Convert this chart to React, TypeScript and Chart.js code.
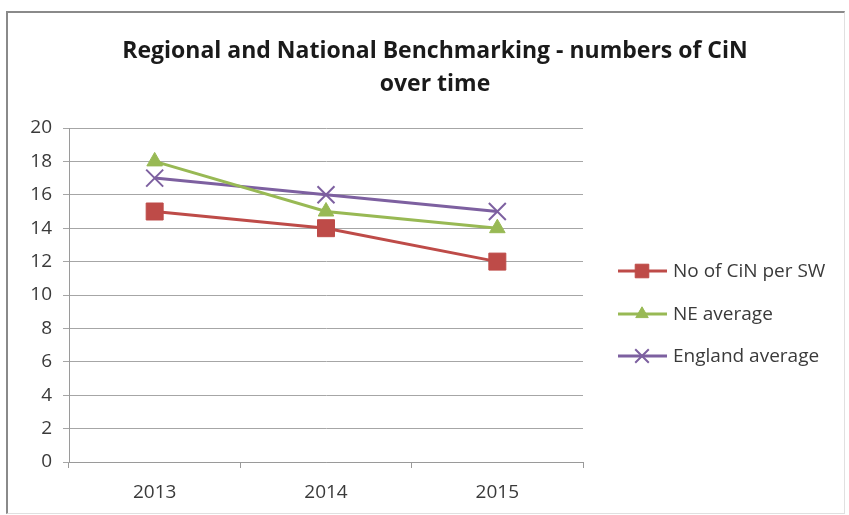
import React, { useEffect, useRef } from "react";
import { Chart, registerables } from "chart.js";
import { drawPoint } from "chart.js/helpers";

Chart.register(...registerables);

// Chart content
const titleLines = ["Regional and National Benchmarking - numbers of CiN", "over time"];
const years = ["2013", "2014", "2015"];
const cinPerSW = [15, 14, 12];
const neAverage = [18, 15, 14];
const englandAverage = [17, 16, 15];
const seriesNames = ["No of CiN per SW", "NE average", "England average"];

const FONT = '"Open Sans", "Liberation Sans", sans-serif';

// Draws the two-line title and the right-hand legend (line + marker + label)
const titleAndLegend = {
  id: "titleAndLegend",
  afterDraw(chart: any) {
    const ctx = chart.ctx as CanvasRenderingContext2D;
    ctx.save();
    ctx.fillStyle = "#1a1a1a";
    ctx.font = `bold 23px ${FONT}`;
    ctx.textAlign = "center";
    ctx.textBaseline = "alphabetic";
    ctx.fillText(titleLines[0], 435, 58);
    ctx.fillText(titleLines[1], 435, 91);

    const rows = [271, 314, 356];
    chart.data.datasets.forEach((ds: any, i: number) => {
      const y = rows[i];
      ctx.strokeStyle = ds.borderColor;
      ctx.lineWidth = 3;
      ctx.beginPath();
      ctx.moveTo(618, y);
      ctx.lineTo(667, y);
      ctx.stroke();
      ctx.fillStyle = ds.pointBackgroundColor;
      ctx.strokeStyle = ds.pointBorderColor;
      ctx.lineWidth = ds.pointBorderWidth;
      drawPoint(ctx, { pointStyle: ds.pointStyle, rotation: 0, borderWidth: ds.pointBorderWidth, radius: ds.pointRadius * 0.8 }, 642, y);
      ctx.fillStyle = "#3a3a3a";
      ctx.font = `19px ${FONT}`;
      ctx.textAlign = "left";
      ctx.textBaseline = "middle";
      ctx.fillText(ds.label, 673, y + 1);
    });
    ctx.restore();
  },
};

export default function App() {
  const ref = useRef<HTMLCanvasElement>(null);

  useEffect(() => {
    document.body.style.margin = "0";
    const chart = new Chart(ref.current!, {
      type: "line",
      data: {
        labels: years,
        datasets: [
          {
            label: seriesNames[0],
            data: cinPerSW,
            borderColor: "#BE4B48",
            borderWidth: 3,
            pointStyle: "rect",
            pointRadius: 12,
            pointBackgroundColor: "#BE4B48",
            pointBorderColor: "#BE4B48",
            pointBorderWidth: 1,
          },
          {
            label: seriesNames[1],
            data: neAverage,
            borderColor: "#98B954",
            borderWidth: 3,
            pointStyle: "triangle",
            pointRadius: 9,
            pointBackgroundColor: "#98B954",
            pointBorderColor: "#98B954",
            pointBorderWidth: 1,
          },
          {
            label: seriesNames[2],
            data: englandAverage,
            borderColor: "#7D60A0",
            borderWidth: 3,
            pointStyle: "crossRot",
            pointRadius: 12,
            pointBackgroundColor: "#7D60A0",
            pointBorderColor: "#7D60A0",
            pointBorderWidth: 2,
          },
        ],
      },
      options: {
        animation: false,
        responsive: false,
        layout: { padding: { top: 128, right: 266, left: 0, bottom: 0 } },
        plugins: { legend: { display: false }, title: { display: false }, tooltip: { enabled: false } },
        scales: {
          x: {
            offset: true,
            grid: { offset: true, drawOnChartArea: false, drawTicks: true, tickLength: 6, color: "#9a9a9a" },
            border: { color: "#9a9a9a", width: 1 },
            ticks: { font: { family: FONT, size: 19 }, color: "#3a3a3a", padding: 13 },
            afterFit: (s: any) => { s.height = 53; },
          },
          y: {
            min: 0,
            max: 20,
            ticks: { stepSize: 2, font: { family: FONT, size: 19 }, color: "#3a3a3a", padding: 11 },
            grid: { color: "#a6a6a6", tickLength: 6 },
            border: { color: "#9a9a9a", width: 1 },
            afterFit: (s: any) => { s.width = 69; },
          },
        },
      },
      plugins: [titleAndLegend],
    });
    return () => chart.destroy();
  }, []);

  return (
    <div style={{ position: "fixed", left: 0, top: 0, width: 849, height: 515, background: "#fff", overflow: "hidden" }}>
      <canvas ref={ref} width={849} height={515} style={{ position: "absolute", left: 0, top: 0 }} />
      <div
        style={{
          position: "absolute",
          left: 6,
          top: 11,
          width: 836,
          height: 500,
          borderLeft: "2px solid #8a8a8a",
          borderTop: "2px solid #8a8a8a",
          borderRight: "1px solid #e0e0e0",
          borderBottom: "1px solid #e0e0e0",
          pointerEvents: "none",
        }}
      />
    </div>
  );
}
